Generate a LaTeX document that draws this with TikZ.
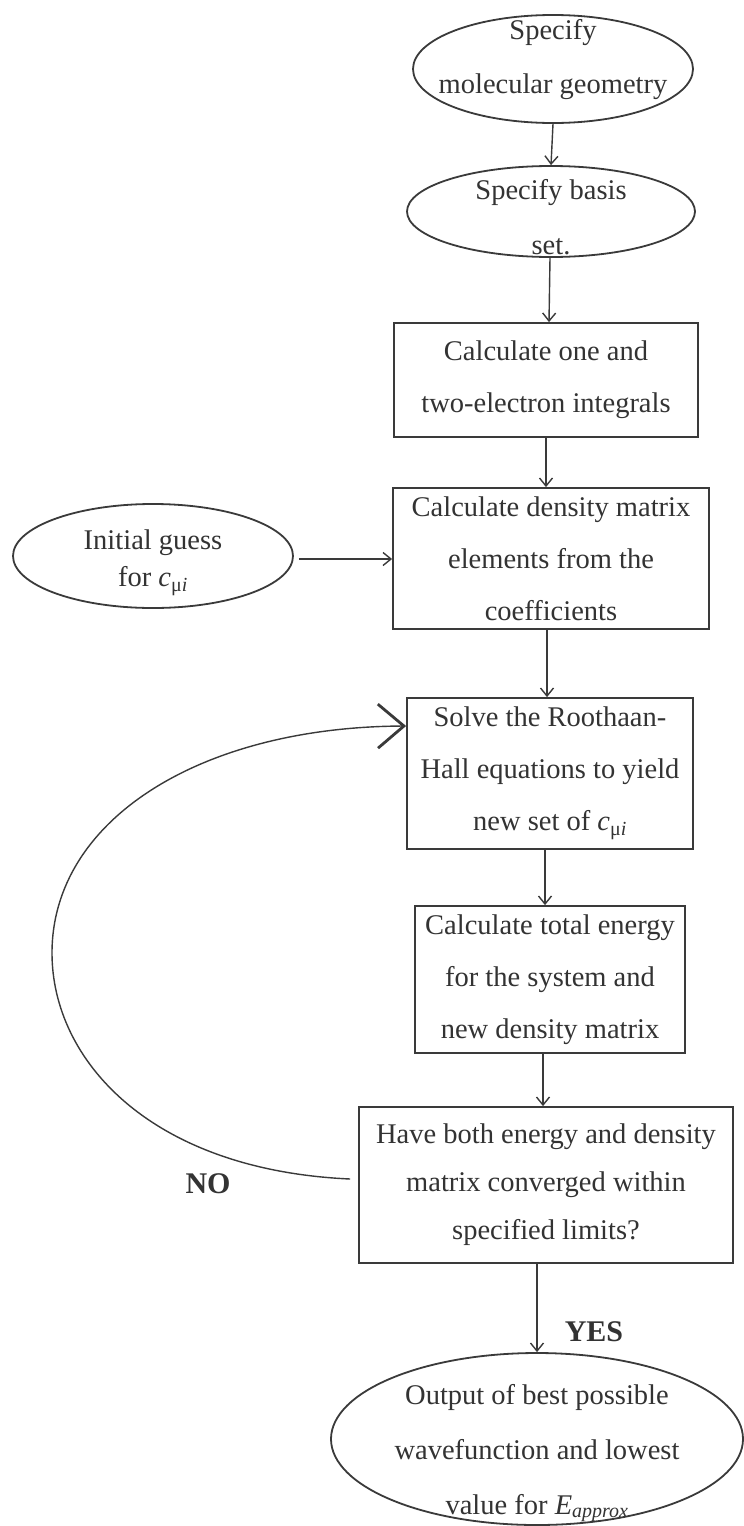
\documentclass[tikz,border=0pt]{standalone}
\usepackage{fontspec}
\setmainfont{Liberation Serif}
\usetikzlibrary{arrows.meta,shapes.geometric,calc}
\definecolor{ink}{HTML}{3A3A3A}
\definecolor{txtc}{HTML}{333333}
\newcommand{\cmui}{\textit{c}\textsubscript{\upshape μ\textit{i}}}
\tikzset{
  base/.style={draw=ink, line width=1.8pt, inner sep=0pt, text=txtc, align=center},
  ell/.style={base, ellipse},
  boxnode/.style={base, rectangle},
  txt/.style={text=txtc, align=center, inner sep=0pt},
  arr/.style={draw=ink, line width=1.4pt, -{Straight Barb[length=8pt,width=13pt,line width=1.4pt]}},
  bigarr/.style={draw=ink, line width=1.4pt, -{Straight Barb[length=26pt,width=44pt,line width=2.8pt]}},
  lbl/.style={text=txtc, font=\fontsize{30}{32}\selectfont\bfseries, inner sep=0pt}
}
\begin{document}
\begin{tikzpicture}[x=1pt,y=1pt]
\useasboundingbox (0,0) rectangle (744,-1526);
\fill[white] (0,0) rectangle (744,-1526);

\node[ell, minimum width=280, minimum height=108,
  label={[txt, font=\fontsize{28.5}{54}\selectfont, yshift=9]center:Specify\\molecular geometry}]
  (e1) at (553,-69) {};
\node[ell, minimum width=288, minimum height=91,
  label={[txt, font=\fontsize{28.5}{55}\selectfont, yshift=-5.5]center:Specify basis\\set.}]
  (e2) at (551,-211.5) {};
\node[boxnode, minimum width=304, minimum height=114, font=\fontsize{28.5}{52}\selectfont]
  (b1) at (546,-380) {Calculate one and\\two-electron integrals};
\node[boxnode, minimum width=316, minimum height=141, font=\fontsize{28.5}{52}\selectfont]
  (dens) at (551,-558.5) {Calculate density matrix\\elements from the\\coefficients};
\node[ell, minimum width=280, minimum height=104,
  label={[txt, font=\fontsize{28.5}{37}\selectfont, yshift=-7]center:Initial guess\\for \cmui}]
  (ig) at (153,-556) {};
\node[boxnode, minimum width=286, minimum height=151, font=\fontsize{28.5}{52}\selectfont]
  (solve) at (550,-773.5) {Solve the Roothaan-\\Hall equations to yield\\new set of \cmui};
\node[boxnode, minimum width=270, minimum height=147, font=\fontsize{28.5}{52}\selectfont]
  (energy) at (550,-979.5) {Calculate total energy\\for the system and\\new density matrix};
\node[boxnode, minimum width=374, minimum height=156, font=\fontsize{28.5}{48}\selectfont]
  (have) at (546,-1185) {Have both energy and density\\matrix converged within\\specified limits?};
\node[ell, minimum width=412, minimum height=172,
  label={[txt, font=\fontsize{28.5}{55}\selectfont, yshift=-14]center:Output of best possible\\wavefunction and lowest\\value for \textit{E}\textsubscript{\itshape approx}}]
  (out) at (537,-1439) {};

\node[lbl] (no) at (208,-1184) {NO};
\node[lbl] (yes) at (594,-1332) {YES};

\draw[arr] (e1.south) -- (e2.north);
\draw[arr] ([xshift=-1pt]e2.south) -- ([xshift=3pt]b1.north);
\draw[arr] (b1.south) -- ([xshift=-5pt]dens.north);
\draw[arr] ([xshift=-4pt]dens.south) -- ([xshift=-3pt]solve.north);
\draw[arr] ([xshift=-5pt]solve.south) -- ([xshift=-5pt]energy.north);
\draw[arr] ([xshift=-7pt]energy.south) -- ([xshift=-3pt]have.north);
\draw[arr] ([xshift=5pt,yshift=-3pt]ig.east) -- ([yshift=-3pt]ig.east -| dens.west);
\draw[arr] (have.south -| out.north) -- (out.north);

\coordinate (lp) at (52,-953);
\draw[bigarr] ([xshift=-8pt,yshift=6pt]have.west)
  .. controls (150,-1170) and (52,-1060) .. (lp)
  .. controls (52,-820) and (200,-727) .. ([yshift=47.5pt]solve.west);
\end{tikzpicture}
\end{document}
